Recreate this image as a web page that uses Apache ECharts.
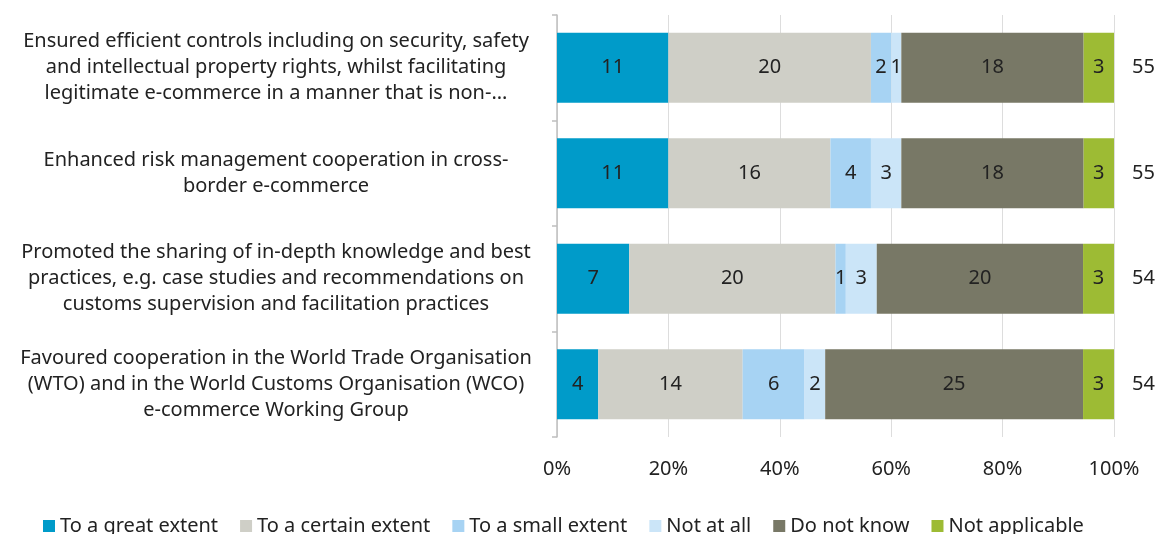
<!DOCTYPE html>
<html>
<head>
<meta charset="utf-8">
<script src="https://cdn.jsdelivr.net/npm/echarts@6/dist/echarts.min.js"></script>
<style>
  html, body { margin: 0; padding: 0; background: #fff; }
  #chart { width: 1159px; height: 534px; }
</style>
</head>
<body>
<div id="chart"></div>
<script>
// Survey statements (top to bottom)
const categories = [
  'Ensured efficient controls including on security, safety\nand intellectual property rights, whilst facilitating\nlegitimate e-commerce in a manner that is non-...',
  'Enhanced risk management cooperation in cross-\nborder e-commerce',
  'Promoted the sharing of in-depth knowledge and best\npractices, e.g. case studies and recommendations on\ncustoms supervision and facilitation practices',
  'Favoured cooperation in the World Trade Organisation\n(WTO) and in the World Customs Organisation (WCO)\ne-commerce Working Group'
];

const seriesNames = ['To a great extent', 'To a certain extent', 'To a small extent', 'Not at all', 'Do not know', 'Not applicable'];

// Response counts per statement
const greatExtent   = [11, 11, 7, 4];
const certainExtent = [20, 16, 20, 14];
const smallExtent   = [2, 4, 1, 6];
const notAtAll      = [1, 3, 3, 2];
const doNotKnow     = [18, 18, 20, 25];
const notApplicable = [3, 3, 3, 3];

const totals = [55, 55, 54, 54];
const xTicks = ['0%', '20%', '40%', '60%', '80%', '100%'];

const counts = [greatExtent, certainExtent, smallExtent, notAtAll, doNotKnow, notApplicable];
const colors = ['#009BC9', '#CFCFC7', '#A7D3F3', '#CBE5F8', '#787866', '#9DBB34'];

const FONT = 'Noto Sans';
const FS = 20;

const series = counts.map((arr, si) => ({
  name: seriesNames[si],
  type: 'bar',
  stack: 'total',
  barWidth: 70,
  itemStyle: { color: colors[si] },
  label: {
    show: true,
    position: 'inside',
    color: '#222',
    fontFamily: FONT,
    fontSize: FS,
    formatter: p => p.data.count
  },
  data: arr.map((v, i) => ({ value: v / totals[i] * 100, count: v }))
}));

const chart = echarts.init(document.getElementById('chart'), null, { renderer: 'canvas' });
chart.setOption({
  animation: false,
  textStyle: { fontFamily: FONT },
  grid: { left: 557, right: 45, top: 15, bottom: 97, containLabel: false },
  legend: {
    bottom: -7,
    left: 38,
    itemWidth: 12,
    itemHeight: 12,
    itemGap: 22,
    icon: 'rect',
    textStyle: { fontFamily: FONT, fontSize: FS, color: '#222' },
    data: seriesNames
  },
  xAxis: {
    type: 'value',
    min: 0,
    max: 100,
    interval: 20,
    axisLine: { show: false },
    axisTick: { show: false },
    splitLine: { lineStyle: { color: '#DDDDDD', width: 1 } },
    axisLabel: {
      margin: 22,
      color: '#222',
      fontFamily: FONT,
      fontSize: FS,
      formatter: v => xTicks[Math.round(v / 20)]
    }
  },
  yAxis: [
    {
      type: 'category',
      inverse: true,
      data: categories,
      axisLine: { show: true, lineStyle: { color: '#BFBFBF', width: 1.5 } },
      axisTick: { show: true, length: 5, lineStyle: { color: '#BFBFBF', width: 1.5 } },
      axisLabel: {
        align: 'center',
        margin: 281,
        color: '#222',
        fontFamily: FONT,
        fontSize: FS,
        lineHeight: 26,
        padding: [8, 0, 0, 0]
      }
    },
    {
      type: 'category',
      inverse: true,
      position: 'right',
      data: totals.map(String),
      axisLine: { show: false },
      axisTick: { show: false },
      axisLabel: {
        margin: 18,
        align: 'left',
        color: '#222',
        fontFamily: FONT,
        fontSize: FS
      }
    }
  ],
  series: series
});
</script>
</body>
</html>
